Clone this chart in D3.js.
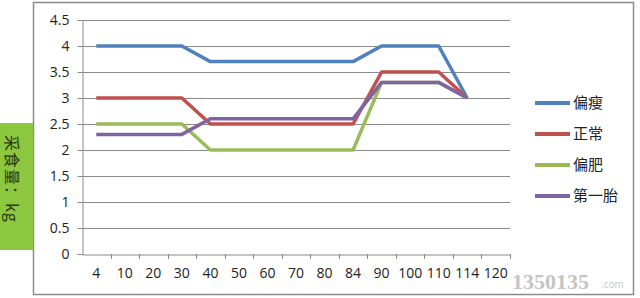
<!DOCTYPE html>
<html>
<head>
<meta charset="utf-8">
<script src="https://cdn.jsdelivr.net/npm/d3@7"></script>
<style>
  body { margin: 0; background: #fff; }
  svg text { font-family: "Open Sans", "Noto Sans", sans-serif; }
</style>
</head>
<body>
<svg width="640" height="298"></svg>
<script>
var days = ['4','10','20','30','40','50','60','70','80','84','90','100','110','114','120'];
var seriesNames = ['偏瘦','正常','偏肥','第一胎'];
var colors = ['#4f81bd','#c0504d','#9bbb59','#8064a2'];
var thin   = [4, 4, 4, 4, 3.7, 3.7, 3.7, 3.7, 3.7, 3.7, 4, 4, 4, 3];
var normal = [3, 3, 3, 3, 2.5, 2.5, 2.5, 2.5, 2.5, 2.5, 3.5, 3.5, 3.5, 3];
var fat    = [2.5, 2.5, 2.5, 2.5, 2, 2, 2, 2, 2, 2, 3.3, 3.3, 3.3, 3];
var first  = [2.3, 2.3, 2.3, 2.3, 2.6, 2.6, 2.6, 2.6, 2.6, 2.6, 3.3, 3.3, 3.3, 3];
var yTicks = [0, 0.5, 1, 1.5, 2, 2.5, 3, 3.5, 4, 4.5];

var series = [thin, normal, fat, first];

var svg = d3.select('svg');

// outer chart frame
svg.append('rect').attr('x', 33.5).attr('y', 2.5).attr('width', 600).attr('height', 292)
  .attr('fill', '#fff').attr('stroke', '#8c8c8c').attr('stroke-width', 1.5);

var x = d3.scaleBand().domain(days).range([82, 510]);
var y = d3.scaleLinear().domain([0, 4.5]).range([254, 20]);

// gridlines
svg.append('g').selectAll('line').data(yTicks.slice(1)).join('line')
  .attr('x1', 82).attr('x2', 510)
  .attr('y1', d => Math.round(y(d)) + 0.5).attr('y2', d => Math.round(y(d)) + 0.5)
  .attr('stroke', '#8a8a8a').attr('stroke-width', 1);

var yAxis = svg.append('g').attr('transform', 'translate(82.5,0)')
  .call(d3.axisLeft(y).tickValues(yTicks).tickSize(5).tickPadding(8).tickFormat(d3.format('')));
var xAxis = svg.append('g').attr('transform', 'translate(0,254.5)')
  .call(d3.axisBottom(x).tickSize(0).tickPadding(14));

[yAxis, xAxis].forEach(function(a) {
  a.select('.domain').attr('stroke', '#8a8a8a');
  a.selectAll('text').attr('font-size', 14).attr('fill', '#222');
  a.selectAll('line').attr('stroke', '#8a8a8a');
});

// x ticks at band boundaries
svg.append('g').selectAll('line').data(days).join('line')
  .attr('x1', d => Math.round(x(d) + x.bandwidth()) + 0.5)
  .attr('x2', d => Math.round(x(d) + x.bandwidth()) + 0.5)
  .attr('y1', 254).attr('y2', 259)
  .attr('stroke', '#8a8a8a');

var line = d3.line()
  .x((d, i) => x(days[i]) + x.bandwidth() / 2)
  .y(d => y(d));

svg.append('g').selectAll('path').data(series).join('path')
  .attr('d', line)
  .attr('fill', 'none')
  .attr('stroke', (d, i) => colors[i])
  .attr('stroke-width', 3.5)
  .attr('stroke-linejoin', 'round');

// legend
var legend = svg.append('g').selectAll('g').data(seriesNames).join('g')
  .attr('transform', (d, i) => 'translate(535,' + (103 + i * 31) + ')');
legend.append('line').attr('x1', 0).attr('x2', 35).attr('y1', 0).attr('y2', 0)
  .attr('stroke', (d, i) => colors[i]).attr('stroke-width', 4);
legend.append('text').attr('x', 38).attr('y', 5).text(d => d)
  .attr('font-size', 15).attr('fill', '#222')
  .style('font-family', '"Noto Sans CJK SC", sans-serif');

// green y-axis title box
svg.append('rect').attr('x', 0).attr('y', 123).attr('width', 33).attr('height', 127)
  .attr('fill', '#8dc63f');
svg.append('text')
  .attr('transform', 'translate(6,135) rotate(90)')
  .attr('font-size', 16).attr('fill', '#2a3a10').attr('letter-spacing', 1)
  .style('font-family', '"Noto Sans CJK SC", sans-serif')
  .text('采食量：kg');

// watermark
svg.append('text').attr('x', 512).attr('y', 289)
  .attr('font-size', 22).attr('font-weight', 'bold').attr('fill', '#c4c4c4')
  .style('font-family', '"Liberation Serif", serif')
  .text('1350135');
svg.append('text').attr('x', 601).attr('y', 288)
  .attr('font-size', 10).attr('fill', '#c4c4c4')
  .text('.com');
</script>
</body>
</html>
